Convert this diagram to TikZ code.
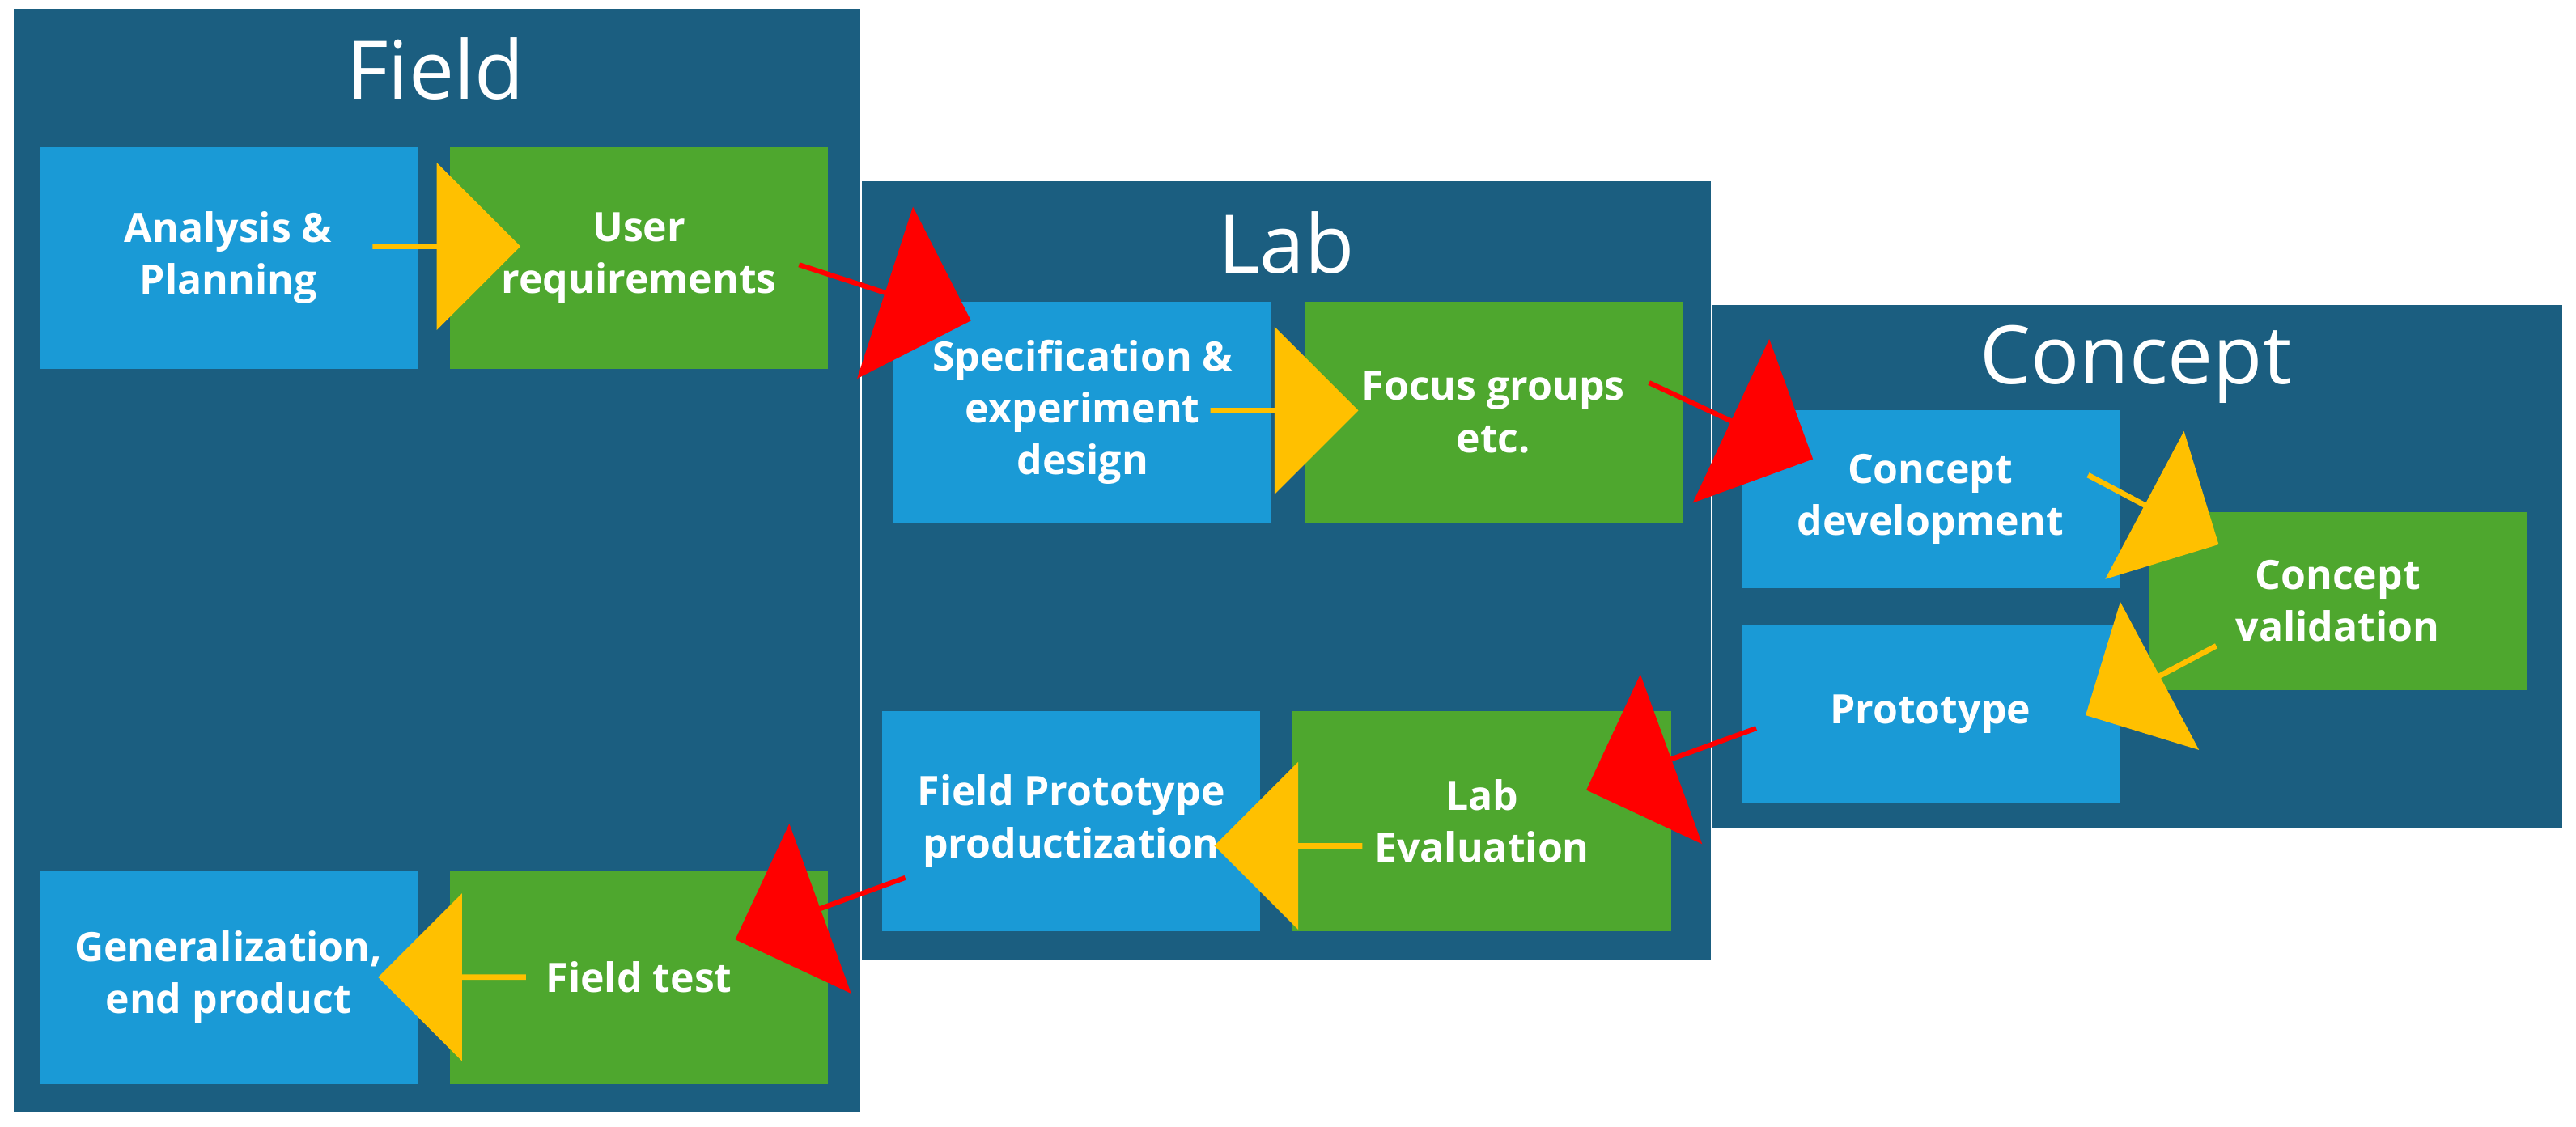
\documentclass[tikz,border=0pt]{standalone}
\usepackage{fontspec}
\setmainfont{Open Sans}
\usetikzlibrary{shapes.arrows}
\definecolor{panel}{HTML}{1B5E80}
\definecolor{bbox}{HTML}{1A9AD6}
\definecolor{gbox}{HTML}{4EA72E}
\definecolor{yarr}{HTML}{FFC000}
\definecolor{rarr}{HTML}{FF0000}
\begin{document}
\begin{tikzpicture}[x=0.01cm,y=-0.01cm,
 panel/.style={fill=panel,draw=white,line width=0.3pt},
 title/.style={text=white,font=\fontsize{14}{16}\selectfont},
 box/.style={minimum width=2.3cm,minimum height=1.35cm,inner sep=0pt,text=white,align=center,font=\bfseries\fontsize{7}{9}\selectfont},
 blue/.style={box,fill=bbox}, green/.style={box,fill=gbox},
 yar/.style={single arrow,fill=yarr,minimum height=0.9cm,minimum width=1.02cm,single arrow head extend=0.21cm,inner sep=0pt},
 rar/.style={single arrow,fill=rarr,minimum height=1.1cm,minimum width=1.1cm,single arrow head extend=0.25cm,inner sep=0pt}]
\useasboundingbox (0,0) rectangle (1568,686);
\fill[white] (0,0) rectangle (1568,686);
\draw[panel] (8,5) rectangle (524,678);
\draw[panel] (524,110) rectangle (1042,585);
\draw[panel] (1042,185) rectangle (1560,505);
\node[title] (tf) at (265,42) {Field};
\node[title] (tl) at (783,148) {Lab};
\node[title] (tc) at (1300,222) {Concept};
\node[blue] (ap) at (139,157) {Analysis \&\\Planning};
\node[green] (ur) at (389,157) {User\\requirements};
\node[blue,minimum height=1.34cm] (sp) at (659,251) {Specification \&\\experiment\\design};
\node[green,minimum height=1.34cm] (fg) at (909,251) {Focus groups\\etc.};
\node[blue,minimum height=1.08cm] (cd) at (1175,304) {Concept\\development};
\node[green,minimum height=1.08cm] (cv) at (1423,366) {Concept\\validation};
\node[blue,minimum height=1.08cm] (pr) at (1175,435) {Prototype};
\node[green,minimum height=1.34cm] (le) at (902,500) {Lab\\Evaluation};
\node[blue,minimum height=1.34cm] (fp) at (652,500) {Field Prototype\\productization};
\node[green,minimum height=1.3cm] (ft) at (389,595) {Field test};
\node[blue,minimum height=1.3cm] (ge) at (139,595) {Generalization,\\end product};
\node[yar] (a1) at (271,150) {};
\node[rar,rotate=-18] (a2) at (538,178) {};
\node[yar] (a3) at (781,250) {};
\node[rar,rotate=-25] (a4) at (1053,256) {};
\node[yar,rotate=-28] (a5) at (1310,310) {};
\node[yar,rotate=208] (a6) at (1310,414) {};
\node[rar,rotate=200] (a7) at (1018,462) {};
\node[yar,rotate=180] (a8) at (785,515) {};
\node[rar,rotate=200] (a9) at (500,553) {};
\node[yar,rotate=180] (a10) at (276,595) {};
\end{tikzpicture}
\end{document}
